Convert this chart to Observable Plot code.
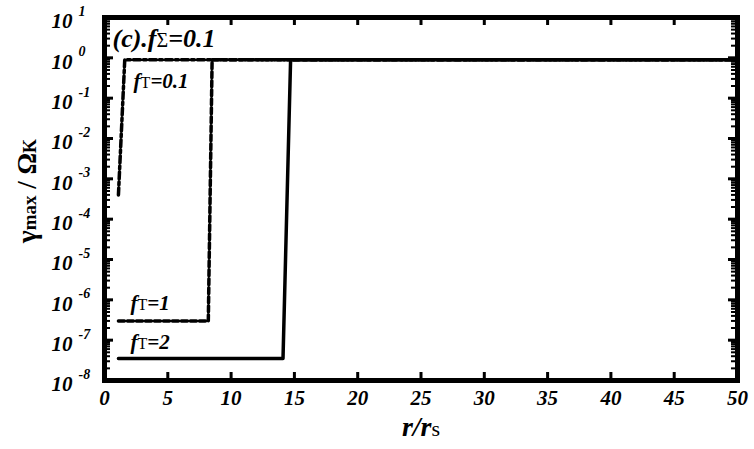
<!DOCTYPE html>
<html>
<head>
<meta charset="utf-8">
<script src="https://cdn.jsdelivr.net/npm/d3@7"></script>
<script src="https://cdn.jsdelivr.net/npm/@observablehq/plot@0.6"></script>
<style>
  html, body { margin: 0; padding: 0; background: #fff; }
  #chart svg { display: block; }
</style>
</head>
<body>
<div id="chart"></div>
<script>
// ---- data ----
const xTicks = [0, 5, 10, 15, 20, 25, 30, 35, 40, 45, 50];
const yTicks = [1e-8, 1e-7, 1e-6, 1e-5, 1e-4, 1e-3, 1e-2, 1e-1, 1e0, 1e1];
const yExponents = ["-8", "-7", "-6", "-5", "-4", "-3", "-2", "-1", "0", "1"];

// fT = 0.1 (dash-dot)
const r01 = [1.1, 1.6, 50];
const g01 = [4e-4, 0.9, 0.9];
// fT = 1 (dashed)
const r1 = [1.1, 8.2, 8.5, 50];
const g1 = [3e-7, 3e-7, 0.9, 0.9];
// fT = 2 (solid)
const r2 = [1.1, 14.1, 14.7, 50];
const g2 = [3.5e-8, 3.5e-8, 0.9, 0.9];

const seriesLabels = ["fT=0.1", "fT=1", "fT=2"];
const labelR = [2.3, 2.05, 2.05];
const labelG = [0.27, 8e-7, 8.7e-8];

const panelLabel = "(c).fΣ=0.1";
const xLabel = "r/rs";
const yLabel = "γmax / ΩK";

// ---- layout ----
const W = 754, H = 449;
const mL = 104, mR = 17, mT = 17, mB = 69;
const innerW = W - mL - mR, innerH = H - mT - mB;

const minorTicks = [];
for (let e = -8; e < 1; e++) for (let k = 2; k <= 9; k++) minorTicks.push(k * Math.pow(10, e));

const toRows = (xs, ys) => xs.map((x, i) => ({x, y: ys[i]}));
const font = "'Liberation Serif', 'Times New Roman', serif";
const txt = {fontFamily: font, fontWeight: "bold", fontStyle: "italic", fill: "#000"};

const chart = Plot.plot({
  width: W, height: H,
  marginLeft: mL, marginRight: mR, marginTop: mT, marginBottom: mB,
  style: {fontFamily: font, background: "#fff", color: "#000"},
  x: {domain: [0, 50], axis: null},
  y: {type: "log", domain: [1e-8, 10], axis: null},
  marks: [
    // inner ticks on all four sides
    Plot.tickY(yTicks, {y: d => d, insetRight: innerW - 9, strokeWidth: 3}),
    Plot.tickY(yTicks, {y: d => d, insetLeft: innerW - 9, strokeWidth: 3}),
    Plot.tickY(minorTicks, {y: d => d, insetRight: innerW - 6, strokeWidth: 2}),
    Plot.tickY(minorTicks, {y: d => d, insetLeft: innerW - 6, strokeWidth: 2}),
    Plot.tickX(xTicks, {x: d => d, insetTop: innerH - 8, strokeWidth: 3}),
    Plot.tickX(xTicks, {x: d => d, insetBottom: innerH - 8, strokeWidth: 3}),
    // curves
    Plot.line(toRows(r01, g01), {x: "x", y: "y", stroke: "#000", strokeWidth: 3.5, strokeDasharray: "7,3,3,3"}),
    Plot.line(toRows(r1, g1), {x: "x", y: "y", stroke: "#000", strokeWidth: 3.5, strokeDasharray: "6,3"}),
    Plot.line(toRows(r2, g2), {x: "x", y: "y", stroke: "#000", strokeWidth: 3.5}),
    Plot.frame({stroke: "#000", strokeWidth: 5}),
    // y tick labels: "10" with exponent
    Plot.text(yTicks, {y: d => d, text: () => "10", frameAnchor: "left", dx: -32, dy: 4, textAnchor: "end", lineAnchor: "middle",
      fontSize: 21, ...txt}),
    Plot.text(yTicks, {y: d => d, text: (d, i) => yExponents[i], frameAnchor: "left", dx: -26, dy: -6, textAnchor: "start", lineAnchor: "middle",
      fontSize: 14, ...txt}),
    // x tick labels
    Plot.text(xTicks, {x: d => d, text: d => String(d), frameAnchor: "bottom", dy: 18, lineAnchor: "middle", textAnchor: "middle",
      fontSize: 21, ...txt}),
    // axis titles
    Plot.text([xLabel], {text: d => d, frameAnchor: "bottom", dy: 47, lineAnchor: "middle", textAnchor: "middle",
      fontSize: 28, ...txt}),
    Plot.text([yLabel], {text: d => d, y: () => 10 ** -3.3, frameAnchor: "left", dx: -77, rotate: -90, textAnchor: "middle", lineAnchor: "middle",
      fontSize: 27, ...txt, fontStyle: "normal"}),
    // annotations
    Plot.text([panelLabel], {text: d => d, frameAnchor: "top-left", dx: 8, dy: 21, textAnchor: "start", lineAnchor: "middle",
      fontSize: 26, ...txt}),
    Plot.text(seriesLabels, {x: (d, i) => labelR[i], y: (d, i) => labelG[i], text: d => d, textAnchor: "start", lineAnchor: "middle",
      fontSize: 21, ...txt})
  ]
});
document.getElementById("chart").appendChild(chart);

// rich text: roman letters inside the italic labels
function rich(key, parts) {
  d3.select(chart).selectAll("text").filter(function () { return this.textContent === key; }).each(function () {
    const t = d3.select(this);
    t.text(null);
    for (const p of parts) {
      const s = t.append("tspan").text(p.t);
      if (p.style) s.attr("font-style", p.style);
      if (p.weight) s.attr("font-weight", p.weight);
      if (p.size) s.attr("font-size", p.size);
    }
  });
}
const roman = {style: "normal", weight: "normal"};
rich(panelLabel, [{t: "(c).f"}, {t: "Σ", ...roman, size: 20}, {t: "=0.1"}]);
rich("fT=0.1", [{t: "f"}, {t: "T", ...roman, size: 16}, {t: "=0.1"}]);
rich("fT=1", [{t: "f"}, {t: "T", ...roman, size: 16}, {t: "=1"}]);
rich("fT=2", [{t: "f"}, {t: "T", ...roman, size: 16}, {t: "=2"}]);
rich(xLabel, [{t: "r/r"}, {t: "s", ...roman, size: 22}]);
rich(yLabel, [{t: "γ"}, {t: "max", size: 19}, {t: " / "}, {t: "Ω"}, {t: "K", size: 18}]);
</script>
</body>
</html>
